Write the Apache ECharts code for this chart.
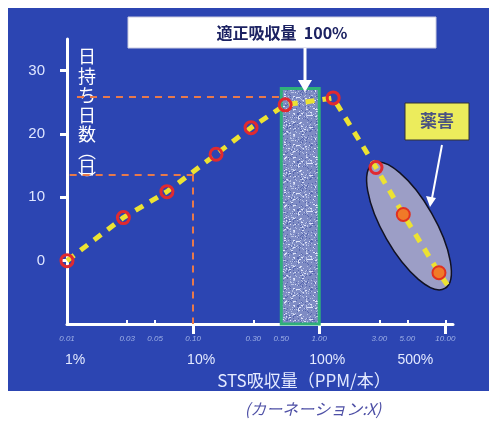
<!DOCTYPE html>
<html><head><meta charset="utf-8">
<script src="https://cdn.jsdelivr.net/npm/echarts@6/dist/echarts.min.js"></script>
<style>html,body{margin:0;padding:0;background:#fff}#c{width:489px;height:422px}</style>
</head><body><div id="c"></div>
<script>
// ---- data ----
const xTickValues = [0.01, 0.03, 0.05, 0.1, 0.3, 0.5, 1, 3, 5, 10];
const pctTickValues = [0.01, 0.1, 1, 5];
const pctTickLabels = ['1%', '10%', '100%', '500%'];
const yTickValues = [0, 10, 20, 30];
const stsUptake = [0.01, 0.028, 0.062, 0.152, 0.288, 0.537, 1.29, 2.82, 4.64, 8.9, 11.0];
const vaseDays  = [0, 6.8, 10.9, 16.8, 21.0, 24.6, 25.7, 14.7, 7.3, -1.9, -4.6];
const markerKind = ['ring','ring','ring','ring','ring','ring','ring','ring','harm','harm','none'];
const optimalRange = [0.5, 1.0];
const optimalTop = 27.2;
const refPeakDays = 25.9;
const refLowDays = 13.6;
const refLowX = 0.1;

const FONT = '"Liberation Sans","Noto Sans CJK JP",sans-serif';
const JFONT = '"Noto Sans CJK JP","Liberation Sans",sans-serif';

// deterministic speckle texture
function makeTexture() {
  const c = document.createElement('canvas');
  c.width = 48; c.height = 48;
  const g = c.getContext('2d');
  g.fillStyle = '#7f8cc4'; g.fillRect(0, 0, 48, 48);
  let s = 12345;
  function rnd() { s = (s * 1103515245 + 12345) & 0x7fffffff; return s / 0x7fffffff; }
  for (let i = 0; i < 600; i++) {
    const x = Math.floor(rnd() * 48), y = Math.floor(rnd() * 48);
    const t = rnd();
    g.fillStyle = t < 0.45 ? '#b9c3e6' : (t < 0.85 ? '#5565ae' : '#dfe4fa');
    g.fillRect(x, y, 1 + (t > 0.9 ? 1 : 0), 1);
  }
  return c;
}

const seriesData = stsUptake.map((x, i) => {
  const k = markerKind[i];
  const d = { value: [x, vaseDays[i]] };
  if (k === 'none') { d.symbol = 'none'; d.symbolSize = 0; }
  else if (k === 'harm') {
    d.symbolSize = 13;
    d.itemStyle = { color: '#f07a28', borderColor: '#e03020', borderWidth: 2 };
  }
  return d;
});

const chart = echarts.init(document.getElementById('c'), null, { renderer: 'canvas' });
chart.setOption({
  backgroundColor: '#2c45b2',
  animation: false,
  grid: { left: 67, right: 36, top: 39, bottom: 98 },
  xAxis: [{
    type: 'log', logBase: 10, min: 0.01, max: 11.5,
    axisLine: { show: true, onZero: false, lineStyle: { color: '#ffffff', width: 3 } },
    axisTick: { show: true, inside: true, length: 4, customValues: xTickValues, lineStyle: { color: '#ffffff', width: 2 } },
    axisLabel: {
      customValues: xTickValues, margin: 11, fontSize: 8, fontStyle: 'italic', color: '#9fb0e6', fontFamily: FONT,
      formatter: v => Number(v).toFixed(2)
    },
    minorTick: { show: false }, splitLine: { show: false }
  }, {
    type: 'log', logBase: 10, min: 0.01, max: 11.5, position: 'bottom',
    axisLine: { show: false, onZero: false },
    axisTick: { show: true, inside: false, length: 10, customValues: [0.1, 1, 10], lineStyle: { color: '#ffffff', width: 3 } },
    axisLabel: {
      customValues: pctTickValues, margin: 29, fontSize: 14, color: '#e4eaff', fontFamily: FONT,
      padding: [0, 0, 0, 16],
      formatter: v => { const i = pctTickValues.findIndex(p => Math.abs(p - v) < 1e-9); return i >= 0 ? pctTickLabels[i] : ''; }
    },
    name: 'STS吸収量（PPM/本）', nameLocation: 'middle', nameGap: 43,
    nameTextStyle: { fontSize: 17, color: '#e4eaff', fontFamily: JFONT, padding: [0, 0, 0, 88] },
    splitLine: { show: false }
  }],
  yAxis: {
    type: 'value', min: -10, max: 35,
    axisLine: { show: true, onZero: false, lineStyle: { color: '#ffffff', width: 3 } },
    axisTick: { show: true, inside: false, length: 7, customValues: yTickValues, lineStyle: { color: '#ffffff', width: 3 } },
    axisLabel: { customValues: yTickValues, margin: 22, fontSize: 15, color: '#dfe6ff', fontFamily: FONT },
    splitLine: { show: false }
  },
  series: [{
    type: 'line',
    xAxisIndex: 0,
    data: seriesData,
    symbol: 'circle', symbolSize: 12,
    itemStyle: { color: 'rgba(0,0,0,0)', borderColor: '#e02a30', borderWidth: 3 },
    lineStyle: { color: '#ece232', width: 5, type: [9, 8] },
    z: 5,
    markLine: {
      silent: true, symbol: 'none', label: { show: false },
      lineStyle: { color: '#e8794a', width: 2, type: [7, 6] },
      data: [
        [{ coord: [0.012, refPeakDays] }, { coord: [0.53, refPeakDays] }],
        [{ coord: [0.0105, refLowDays] }, { coord: [refLowX, refLowDays] }],
        [{ coord: [refLowX, refLowDays] }, { coord: [refLowX, -10] }]
      ]
    },
    markArea: {
      silent: true,
      itemStyle: { color: { image: makeTexture(), repeat: 'repeat' }, borderColor: '#2fb07a', borderWidth: 3 },
      data: [[{ coord: [optimalRange[0], optimalTop] }, { coord: [optimalRange[1], -10] }]]
    }
  }],
  graphic: [
    { type: 'rect', shape: { x: 0, y: 0, width: 489, height: 8 }, style: { fill: '#ffffff' } },
    { type: 'rect', shape: { x: 0, y: 0, width: 8, height: 422 }, style: { fill: '#ffffff' } },
    { type: 'rect', shape: { x: 0, y: 391, width: 489, height: 31 }, style: { fill: '#ffffff' } },
    { type: 'text', x: 313, y: 409, style: { text: '(カーネーション:X)', fill: '#4e50a6', fontSize: 16, fontStyle: 'italic', fontFamily: JFONT, align: 'center', verticalAlign: 'middle' } },
    // top label
    { type: 'rect', shape: { x: 128, y: 17, width: 308, height: 31 }, style: { fill: '#ffffff', stroke: '#c9cbe0', lineWidth: 1 } },
    { type: 'text', x: 282, y: 33, style: { text: '適正吸収量  100%', fill: '#1c2262', fontSize: 16, fontWeight: 'bold', fontFamily: JFONT, align: 'center', verticalAlign: 'middle' } },
    { type: 'line', z: 20, shape: { x1: 305, y1: 48, x2: 305, y2: 82 }, style: { stroke: '#ffffff', lineWidth: 3 } },
    { type: 'polygon', z: 20, shape: { points: [[298, 80], [312, 80], [305, 92]] }, style: { fill: '#ffffff' } },
    // harm label
    { type: 'ellipse', z: 1, x: 409, y: 226, rotation: -1.05, shape: { cx: 0, cy: 0, rx: 72, ry: 26 }, style: { fill: '#9c9ec6', stroke: '#111122', lineWidth: 1.5 } },
    { type: 'rect', shape: { x: 405, y: 103, width: 64, height: 37 }, style: { fill: '#ecec5c', stroke: '#333333', lineWidth: 1 } },
    { type: 'text', x: 437, y: 121, style: { text: '薬害', fill: '#4a5282', fontSize: 17, fontWeight: 'bold', fontFamily: JFONT, align: 'center', verticalAlign: 'middle' } },
    { type: 'line', z: 20, shape: { x1: 442, y1: 145, x2: 432, y2: 198 }, style: { stroke: '#ffffff', lineWidth: 2 } },
    { type: 'polygon', z: 20, shape: { points: [[426, 196], [436, 198], [430, 207]] }, style: { fill: '#ffffff' } },
    // y axis name (vertical)
    { type: 'text', x: 87, y: 56, style: { text: '日', fill: '#ffffff', fontSize: 18, fontFamily: JFONT, align: 'center', verticalAlign: 'middle' } },
    { type: 'text', x: 87, y: 76, style: { text: '持', fill: '#ffffff', fontSize: 18, fontFamily: JFONT, align: 'center', verticalAlign: 'middle' } },
    { type: 'text', x: 87, y: 95, style: { text: 'ち', fill: '#ffffff', fontSize: 18, fontFamily: JFONT, align: 'center', verticalAlign: 'middle' } },
    { type: 'text', x: 87, y: 115, style: { text: '日', fill: '#ffffff', fontSize: 18, fontFamily: JFONT, align: 'center', verticalAlign: 'middle' } },
    { type: 'text', x: 87, y: 134, style: { text: '数', fill: '#ffffff', fontSize: 18, fontFamily: JFONT, align: 'center', verticalAlign: 'middle' } },
    { type: 'text', x: 87, y: 151, style: { text: '︵', fill: '#ffffff', fontSize: 18, fontFamily: JFONT, align: 'center', verticalAlign: 'middle' } },
    { type: 'text', x: 87, y: 167, style: { text: '日', fill: '#ffffff', fontSize: 18, fontFamily: JFONT, align: 'center', verticalAlign: 'middle' } },
    { type: 'text', x: 87, y: 180, style: { text: '︶', fill: '#ffffff', fontSize: 18, fontFamily: JFONT, align: 'center', verticalAlign: 'middle' } }
  ]
});
</script>
</body></html>
